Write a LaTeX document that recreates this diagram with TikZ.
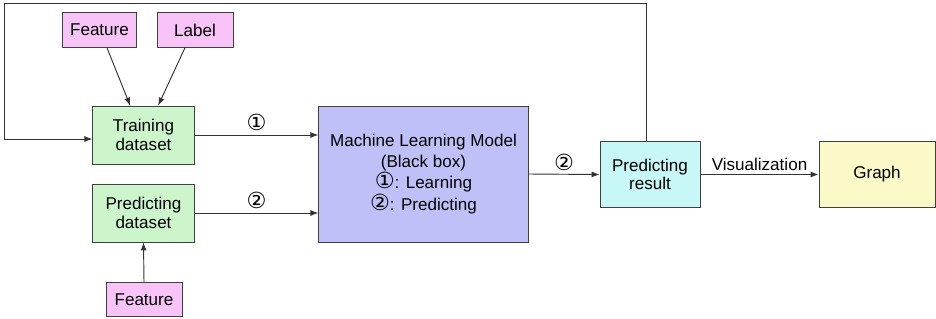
\documentclass[tikz,border=0pt]{standalone}
\usepackage{fontspec}
\setmainfont{Liberation Sans}
\newfontfamily\circfont[Scale=1.3]{DejaVu Sans}
\usetikzlibrary{arrows.meta,positioning}

% 圓圈數字
\newcommand{\cone}{{\circfont ①}}
\newcommand{\ctwo}{{\circfont ②}}

\definecolor{featpink}{RGB}{248,196,248}
\definecolor{dsgreen}{RGB}{204,245,204}
\definecolor{mlblue}{RGB}{192,192,248}
\definecolor{rescyan}{RGB}{200,247,247}
\definecolor{graphyellow}{RGB}{252,249,200}

\begin{document}
\begin{tikzpicture}[
    x=0.75pt, y=-0.75pt,
    % 全域樣式設定
    box/.style={draw=black!75, line width=0.6pt, align=center, inner sep=2pt,
                font=\fontsize{12.8}{14}\selectfont}, % 方框樣式
    % 連線樣式:細線,終點為實心箭頭
    flow/.style={line width=0.7pt, draw=black!80, -{Latex[length=6pt, width=4.5pt]}},
    tag/.style={font=\fontsize{12.8}{14}\selectfont, inner sep=2.5pt}
]
    \useasboundingbox (0,0) rectangle (936,318);

    % --- 1. 輸入資料 (Feature / Label) ---
    \node[box, fill=featpink, minimum width=56pt, minimum height=26pt] (feattop) at (99.5,30) {Feature};
    \node[box, fill=featpink, minimum width=57pt, minimum height=26pt] (label) at (195,30) {Label};
    \node[box, fill=featpink, minimum width=57pt, minimum height=26pt] (featbot) at (144,299.5) {Feature};

    % --- 2. 資料集 ---
    \node[box, fill=dsgreen, minimum width=76pt, minimum height=43.5pt] (train) at (143.5,135) {Training\\dataset};
    \node[box, fill=dsgreen, minimum width=76pt, minimum height=43.5pt] (predset) at (143.5,213) {Predicting\\dataset};

    % --- 3. 模型 (黑盒子) ---
    \node[box, fill=mlblue, minimum width=157pt, minimum height=102pt,
          font=\fontsize{12.8}{15.8}\selectfont] (model) at (423.5,174)
        {Machine Learning Model\\(Black box)\\\cone: Learning\\\ctwo: Predicting};

    % --- 4. 結果與圖表 ---
    \node[box, fill=rescyan, minimum width=75pt, minimum height=49pt] (result) at (650,174.5) {Predicting\\result};
    \node[box, fill=graphyellow, minimum width=87pt, minimum height=49pt] (graph) at (877,174.5) {Graph};

    % --- 5. 連線 ---
    \draw[flow] ([xshift=5.6pt]feattop.south) -- ([xshift=-10pt]train.north);
    \draw[flow] ([xshift=-7.5pt]label.south) -- ([xshift=11pt]train.north);
    \draw[flow] (featbot.north) -- (predset.south);
    \draw[flow] (train.east) -- node[tag, above] {\cone} (train.east -| model.west);
    \draw[flow] (predset.east) -- node[tag, above] {\ctwo} (predset.east -| model.west);
    \draw[flow] (model.east) -- node[tag, above] {\ctwo} (result.west);
    \draw[flow] (result.east) -- node[tag, above] {Visualization} (graph.west);

    % 回饋路徑:從結果繞回訓練資料集
    \coordinate (loopcorner) at (4,3);
    \draw[flow] ([xshift=-3pt]result.north) |- (loopcorner) |- ([yshift=-3pt]train.west);

\end{tikzpicture}
\end{document}
